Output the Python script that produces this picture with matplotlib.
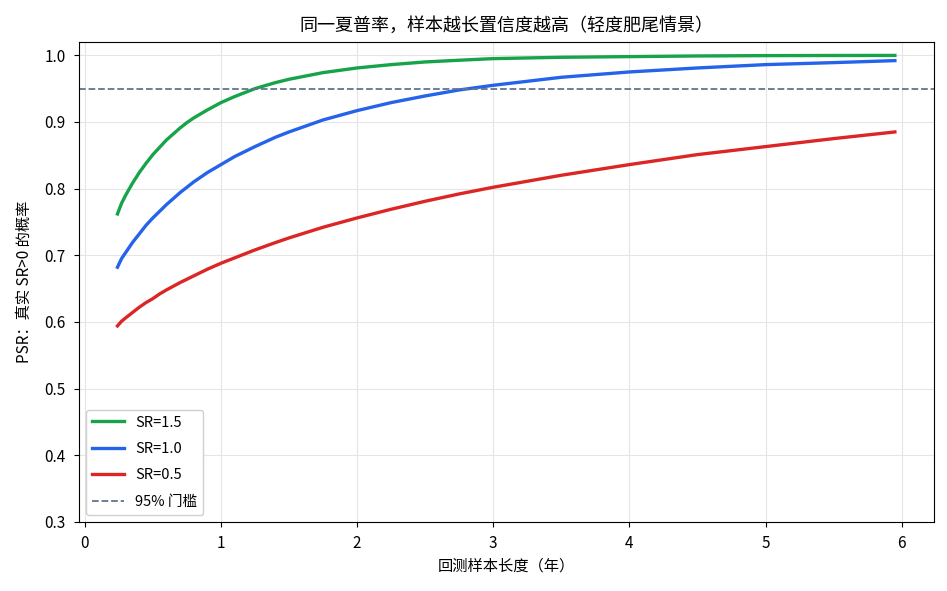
import numpy as np
import matplotlib
matplotlib.use('Agg')
import matplotlib.pyplot as plt

plt.rcParams['font.family'] = ['Noto Sans CJK SC', 'DejaVu Sans']
plt.rcParams['axes.unicode_minus'] = False

# 回测样本长度（年）
years = [0.24, 0.27, 0.3, 0.35, 0.4, 0.45, 0.5, 0.55, 0.6, 0.7, 0.75, 0.8, 0.9,
         1.0, 1.1, 1.25, 1.4, 1.5, 1.75, 2.0, 2.25, 2.5, 2.75, 3.0, 3.5, 4.0,
         4.5, 5.0, 5.5, 5.95]

# PSR 读数
psr_15 = [0.762, 0.778, 0.790, 0.808, 0.824, 0.838, 0.851, 0.862, 0.873, 0.891,
          0.899, 0.906, 0.918, 0.929, 0.938, 0.950, 0.959, 0.964, 0.974, 0.981,
          0.986, 0.990, 0.9926, 0.995, 0.997, 0.998, 0.999, 0.9995, 0.9997, 0.9998]
psr_10 = [0.682, 0.695, 0.704, 0.719, 0.732, 0.745, 0.756, 0.766, 0.776, 0.794,
          0.802, 0.810, 0.824, 0.836, 0.848, 0.863, 0.877, 0.885, 0.903, 0.917,
          0.929, 0.939, 0.948, 0.955, 0.967, 0.975, 0.981, 0.986, 0.989, 0.992]
psr_05 = [0.594, 0.601, 0.606, 0.614, 0.622, 0.629, 0.635, 0.642, 0.648, 0.659,
          0.664, 0.669, 0.679, 0.688, 0.696, 0.708, 0.719, 0.726, 0.742, 0.756,
          0.769, 0.781, 0.792, 0.802, 0.820, 0.836, 0.851, 0.863, 0.875, 0.885]

threshold = 0.95

fig, ax = plt.subplots(figsize=(9.47, 5.91), dpi=100)
fig.subplots_adjust(left=0.083, right=0.986, top=0.929, bottom=0.117)

ax.plot(years, psr_15, color='#16a34a', lw=2.4, label='SR=1.5')
ax.plot(years, psr_10, color='#2563eb', lw=2.4, label='SR=1.0')
ax.plot(years, psr_05, color='#dc2626', lw=2.4, label='SR=0.5')
ax.axhline(threshold, color='#64748b', ls='--', lw=1.3, label='95% 门槛')

ax.set_ylim(0.3, 1.02)
ax.set_yticks(np.arange(0.3, 1.01, 0.1))
ax.grid(True, color='#e5e5e5', lw=0.8)
ax.set_axisbelow(True)

ax.set_title('同一夏普率，样本越长置信度越高（轻度肥尾情景）', fontsize=13, pad=8)
ax.set_xlabel('回测样本长度（年）', fontsize=11, labelpad=4)
ax.set_ylabel('PSR：真实 SR>0 的概率', fontsize=11, labelpad=8)
ax.tick_params(labelsize=11, pad=6)

ax.legend(loc='lower left', fontsize=10.5, framealpha=1, edgecolor='#d0d0d0',
          labelspacing=0.85, handlelength=2.2)

fig.savefig('out.png', dpi=100)
